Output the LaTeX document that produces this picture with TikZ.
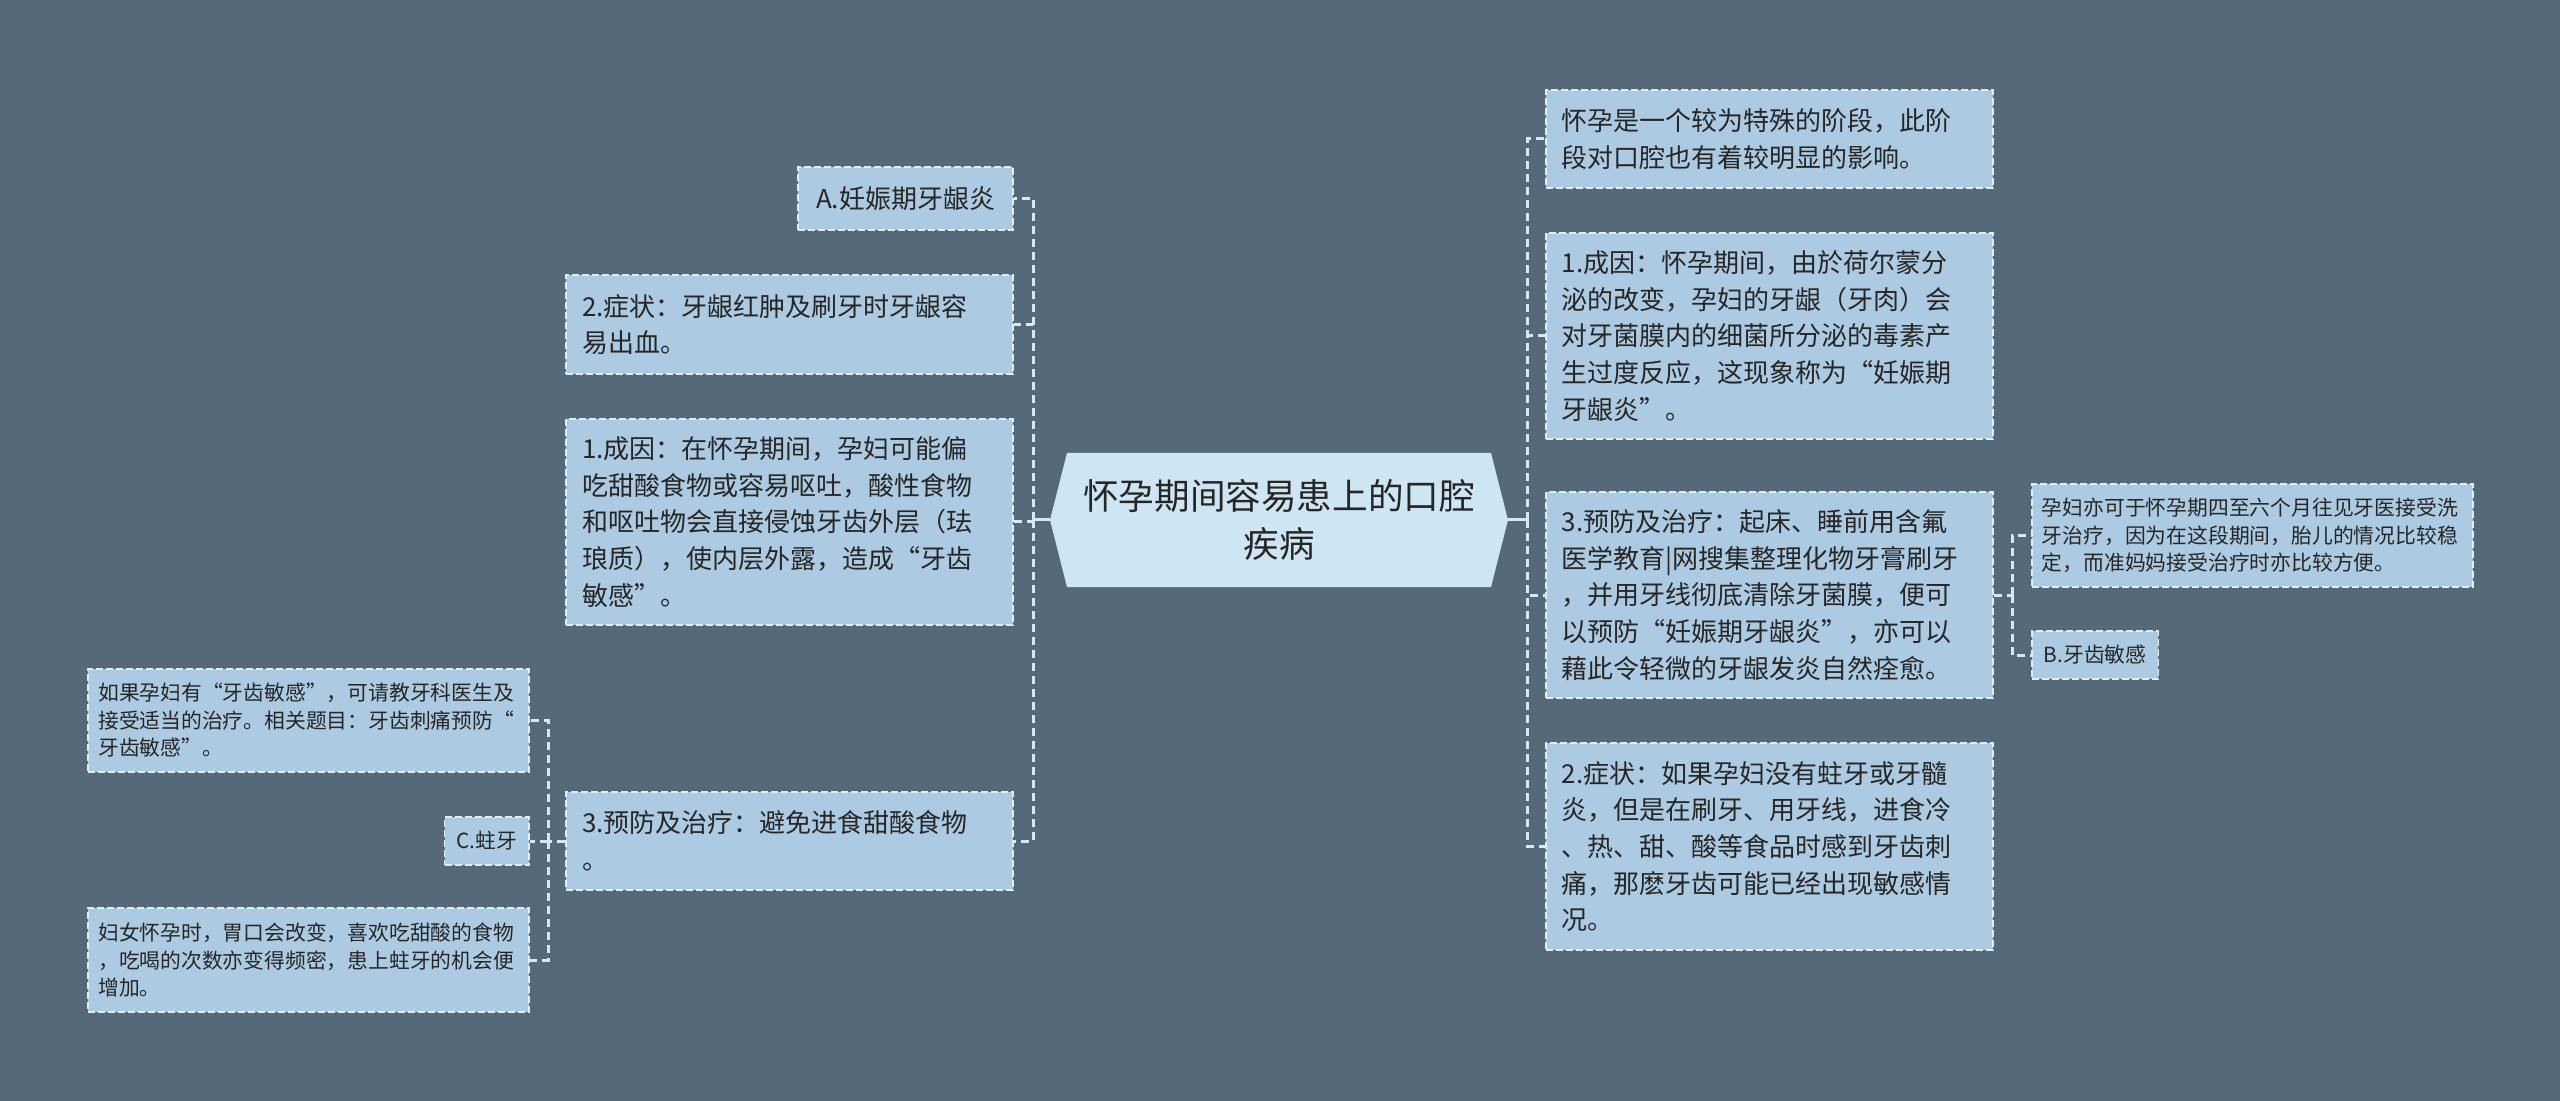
\documentclass[tikz,border=0pt]{standalone}
\usepackage{fontspec}
\setmainfont{Noto Sans CJK SC}
\usetikzlibrary{calc}
\definecolor{bgcol}{RGB}{85,105,120}
\definecolor{boxcol}{RGB}{172,202,226}
\definecolor{rootcol}{RGB}{206,229,243}
\definecolor{edgecol}{RGB}{222,238,249}
\definecolor{linkcol}{RGB}{214,232,245}
\definecolor{txtcol}{RGB}{38,38,38}

\begin{document}
\begin{tikzpicture}[x=0.5pt,y=-0.5pt,
	box/.style={draw=edgecol,fill=boxcol,line width=0.8pt,dash pattern=on 3.5pt off 1.5pt,text=txtcol,inner ysep=4pt},
	midfont/.style={font=\fontsize{13pt}{18.35pt}\selectfont},
	smallfont/.style={font=\fontsize{10.4pt}{13.75pt}\selectfont},
	big/.style={box,midfont,align=left,inner xsep=8pt,text width=207.5pt},
	small/.style={box,smallfont,align=left,inner xsep=5pt,text width=210.5pt},
	tag/.style={box,inner xsep=6pt,align=center},
	link/.style={draw=linkcol,line width=1.5pt,dash pattern=on 4pt off 2.5pt},
	stem/.style={draw=linkcol,line width=1.5pt}]
				  %FOND
				  \useasboundingbox (0,0) rectangle (2560,1101);
				  \fill[bgcol] (0,0) rectangle (2560,1101);
				  
				  %RACINE
				  \coordinate (rc) at (1279,520);
				  \fill[rootcol] ($(rc)+(-229,0)$) -- ($(rc)+(-212,-67)$) -- ($(rc)+(212,-67)$) -- ($(rc)+(229,0)$) -- ($(rc)+(212,67)$) -- ($(rc)+(-212,67)$) -- cycle;
				  \node[font=\fontsize{17.8pt}{24pt}\selectfont,text=txtcol,align=center,minimum width=229pt,minimum height=67pt] (root) at (rc) {怀孕期间容易患上的口腔\\疾病};
				  
				  %GAUCHE
				  \node[tag,midfont,anchor=east,minimum width=107.5pt,minimum height=31.5pt] (la) at (1014,198.5) {A.妊娠期牙龈炎};
				  \node[big,anchor=east,minimum height=49.5pt] (l2) at (1014,324.5) {2.症状：牙龈红肿及刷牙时牙龈容\\易出血。};
				  \node[big,anchor=east,minimum height=103pt] (l1) at (1014,522) {1.成因：在怀孕期间，孕妇可能偏\\吃甜酸食物或容易呕吐，酸性食物\\和呕吐物会直接侵蚀牙齿外层（珐\\琅质），使内层外露，造成“牙齿\\敏感”。};
				  \node[big,anchor=east,minimum height=49pt] (l3) at (1014,841) {3.预防及治疗：避免进食甜酸食物\\。};
				  \node[small,anchor=east,minimum height=51.5pt] (ls1) at (530,720.5) {如果孕妇有“牙齿敏感”，可请教牙科医生及\\接受适当的治疗。相关题目：牙齿刺痛预防“\\牙齿敏感”。};
				  \node[tag,smallfont,anchor=east,minimum width=41.5pt,minimum height=24pt] (lc) at (530,841) {C.蛀牙};
				  \node[small,anchor=east,minimum height=52pt] (ls2) at (530,960) {妇女怀孕时，胃口会改变，喜欢吃甜酸的食物\\，吃喝的次数亦变得频密，患上蛀牙的机会便\\增加。};
				  
				  %DROITE
				  \node[big,anchor=west,minimum height=49pt] (r0) at (1545,139) {怀孕是一个较为特殊的阶段，此阶\\段对口腔也有着较明显的影响。};
				  \node[big,anchor=west,minimum height=103pt] (r1) at (1545,336) {1.成因：怀孕期间，由於荷尔蒙分\\泌的改变，孕妇的牙龈（牙肉）会\\对牙菌膜内的细菌所分泌的毒素产\\生过度反应，这现象称为“妊娠期\\牙龈炎”。};
				  \node[big,anchor=west,minimum height=103pt] (r3) at (1545,595) {3.预防及治疗：起床、睡前用含氟\\医学教育|网搜集整理化物牙膏刷牙\\，并用牙线彻底清除牙菌膜，便可\\以预防“妊娠期牙龈炎”，亦可以\\藉此令轻微的牙龈发炎自然痊愈。};
				  \node[big,anchor=west,minimum height=103.5pt] (r2) at (1545,846.5) {2.症状：如果孕妇没有蛀牙或牙髓\\炎，但是在刷牙、用牙线，进食冷\\、热、甜、酸等食品时感到牙齿刺\\痛，那麽牙齿可能已经出现敏感情\\况。};
				  \node[small,anchor=west,minimum height=51.5pt] (rs1) at (2031,535.5) {孕妇亦可于怀孕期四至六个月往见牙医接受洗\\牙治疗，因为在这段期间，胎儿的情况比较稳\\定，而准妈妈接受治疗时亦比较方便。};
				  \node[tag,smallfont,anchor=west,minimum width=61.5pt,minimum height=24pt] (rb) at (2031,655) {B.牙齿敏感};
				  
				  %LIENS
				  \coordinate (lt) at (1033,520);
				  \coordinate (ls) at (548,841);
				  \coordinate (rt) at (1527,520);
				  \coordinate (rs) at (2012,595);
				  \draw[stem] (root.west) -- (lt);
				  \draw[stem] (root.east) -- (rt);
				  \foreach \n in {la,l2,l1,l3} \draw[link] (lt) |- (\n.east);
				  \draw[link] (l3.west) -- (ls);
				  \foreach \n in {ls1,lc,ls2} \draw[link] (ls) |- (\n.east);
				  \foreach \n in {r0,r1,r3,r2} \draw[link] (rt) |- (\n.west);
				  \draw[link] (r3.east) -- (rs);
				  \foreach \n in {rs1,rb} \draw[link] (rs) |- (\n.west);
\end{tikzpicture}
\end{document}
